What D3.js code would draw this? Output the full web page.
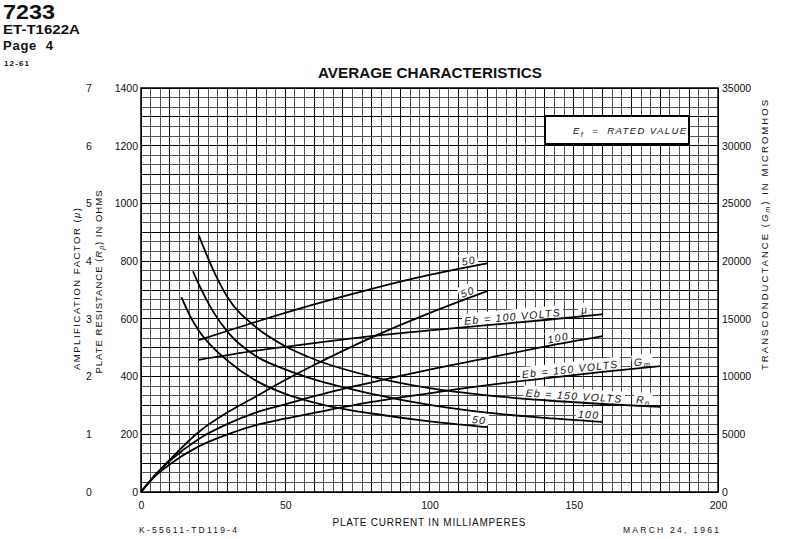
<!DOCTYPE html>
<html><head><meta charset="utf-8">
<script src="https://cdn.jsdelivr.net/npm/d3@7"></script>
<style>
body{margin:0;background:#fff;}
svg{display:block;}
text{font-family:"Liberation Sans",Arial,sans-serif;fill:#111;}
</style></head><body>
<svg id="c" width="787" height="539"></svg>
<script>
// ---------- data ----------
const xTicks = [0, 50, 100, 150, 200];
const ohmTicks = [0, 200, 400, 600, 800, 1000, 1200, 1400];
const muTicks = [0, 1, 2, 3, 4, 5, 6, 7];
const gmTicks = [0, 5000, 10000, 15000, 20000, 25000, 30000, 35000];

const muCurrent50 = [20, 40, 60, 80, 100, 120];
const mu50 = [2.63, 2.95, 3.25, 3.52, 3.76, 3.96];
const muCurrent100 = [20, 40, 60, 80, 100, 120, 140, 160];
const mu100 = [2.29, 2.45, 2.58, 2.70, 2.80, 2.89, 2.98, 3.08];

const gmCurrent = [0, 5, 10, 20, 30, 40, 50, 60, 80, 100, 120, 140, 160, 180];
const gm50 = [0, 1500, 2800, 5200, 6900, 8300, 9700, 11000, 13400, 15500, 17400];
const gm100 = [0, 1500, 2700, 4600, 5900, 6900, 7600, 8300, 9500, 10600, 11600, 12600, 13500];
const gm150 = [0, 1400, 2400, 3950, 5000, 5800, 6350, 6850, 7800, 8550, 9250, 9850, 10400, 10900];

const rpCurrent50 = [14, 17, 20, 25, 30, 40, 50, 60, 70, 80, 100, 120];
const rp50 = [675, 610, 560, 500, 455, 385, 340, 310, 288, 272, 245, 225];
const rpCurrent100 = [18, 20, 25, 30, 40, 50, 60, 80, 100, 120, 140, 160];
const rp100 = [765, 720, 625, 555, 470, 425, 390, 340, 302, 275, 257, 243];
const rpCurrent150 = [20, 25, 30, 40, 50, 60, 80, 100, 120, 140, 160, 180];
const rp150 = [890, 770, 675, 570, 505, 460, 400, 360, 335, 318, 305, 295];

// ---------- scales ----------
const svg = d3.select("#c");
const L = 141, R = 718, T = 88, B = 492;
const x = d3.scaleLinear().domain([0, 200]).range([L, R]);
const yOhm = d3.scaleLinear().domain([0, 1400]).range([B, T]);
const yMu = d3.scaleLinear().domain([0, 7]).range([B, T]);
const yGm = d3.scaleLinear().domain([0, 35000]).range([B, T]);

const series = {
  mu50:  {xs: muCurrent50, ys: mu50, y: yMu},
  mu100: {xs: muCurrent100, ys: mu100, y: yMu},
  gm50:  {xs: gmCurrent.slice(0, gm50.length), ys: gm50, y: yGm},
  gm100: {xs: gmCurrent.slice(0, gm100.length), ys: gm100, y: yGm},
  gm150: {xs: gmCurrent.slice(0, gm150.length), ys: gm150, y: yGm},
  rp50:  {xs: rpCurrent50, ys: rp50, y: yOhm},
  rp100: {xs: rpCurrent100, ys: rp100, y: yOhm},
  rp150: {xs: rpCurrent150, ys: rp150, y: yOhm}
};

const curveLabels = [
  {s: "mu50", at: 114, parts: [["50"]]},
  {s: "gm50", at: 114, parts: [["50"]]},
  {s: "mu100", at: 129, parts: [["Eb = 100 VOLTS"]]},
  {s: "mu100", at: 154, parts: [["\u03bc"]]},
  {s: "gm100", at: 145, parts: [["100"]]},
  {s: "gm150", at: 149, parts: [["Eb = 150 VOLTS"]]},
  {s: "gm150", at: 174, parts: [["G"], ["m", "sub"]]},
  {s: "rp150", at: 150, parts: [["Eb = 150 VOLTS"]]},
  {s: "rp150", at: 174, parts: [["R"], ["p", "sub"]]},
  {s: "rp100", at: 155, parts: [["100"]]},
  {s: "rp50", at: 117, parts: [["50"]]}
];

// ---------- header ----------
svg.append("text").attr("x", 3).attr("y", 19).attr("font-size", 20).attr("font-weight", "bold")
  .attr("textLength", 52).attr("lengthAdjust", "spacingAndGlyphs").text("7233");
svg.append("text").attr("x", 3).attr("y", 34).attr("font-size", 13).attr("font-weight", "bold")
  .attr("textLength", 77).attr("lengthAdjust", "spacingAndGlyphs").text("ET-T1622A");
svg.append("text").attr("x", 3).attr("y", 50).attr("font-size", 13).attr("font-weight", "bold")
  .attr("textLength", 50).attr("lengthAdjust", "spacing").attr("xml:space", "preserve").text("Page  4");
svg.append("text").attr("x", 4).attr("y", 66).attr("font-size", 8).attr("font-weight", "bold")
  .attr("textLength", 25).text("12-61");
svg.append("text").attr("x", 430).attr("y", 78).attr("font-size", 14.5).attr("font-weight", "bold")
  .attr("text-anchor", "middle").attr("textLength", 224).attr("lengthAdjust", "spacingAndGlyphs")
  .text("AVERAGE CHARACTERISTICS");

// ---------- grid ----------
const grid = svg.append("g").attr("shape-rendering", "crispEdges");
d3.range(0, 61).forEach(i => {
  const v = i * 200 / 60;
  grid.append("line").attr("x1", x(v)).attr("x2", x(v)).attr("y1", T).attr("y2", B)
    .attr("stroke", i % 3 === 0 ? "#000" : "#555")
    .attr("stroke-width", 1);
});
d3.range(0, 43).forEach(j => {
  const v = j * 1400 / 42;
  grid.append("line").attr("x1", L).attr("x2", R).attr("y1", yOhm(v)).attr("y2", yOhm(v))
    .attr("stroke", j % 3 === 0 ? "#000" : "#555")
    .attr("stroke-width", 1);
});
svg.append("rect").attr("x", L).attr("y", T).attr("width", R - L).attr("height", B - T)
  .attr("fill", "none").attr("stroke", "#000").attr("stroke-width", 1.5);

// ---------- legend box ----------
svg.append("rect").attr("x", 545).attr("y", 116).attr("width", 144).attr("height", 28)
  .attr("fill", "#fff").attr("stroke", "#000").attr("stroke-width", 2);
const lg = svg.append("text").attr("x", 573).attr("y", 134).attr("font-size", 9.5)
  .attr("font-style", "italic").attr("letter-spacing", 1.4);
lg.append("tspan").text("E");
lg.append("tspan").attr("font-size", 7).attr("dy", 3).text("f");
lg.append("tspan").attr("dy", -3).attr("xml:space", "preserve").text("  =  RATED VALUE");

// ---------- curve labels ----------
function interp(s, v) {
  const d = series[s];
  return d3.scaleLinear().domain(d.xs).range(d.ys)(v);
}
function px(s, v) {
  return [x(v), series[s].y(interp(s, v))];
}
const labelG = svg.append("g");
const lineG = svg.append("g");
const textG = svg.append("g");
curveLabels.forEach(lab => {
  const [cx, cy] = px(lab.s, lab.at);
  const p0 = px(lab.s, lab.at - 4), p1 = px(lab.s, lab.at + 4);
  const ang = Math.atan2(p1[1] - p0[1], p1[0] - p0[0]) * 180 / Math.PI;
  const g = textG.append("g").attr("transform", `translate(${cx},${cy}) rotate(${ang})`);
  const t = g.append("text").attr("text-anchor", "middle").attr("y", -2.5)
    .attr("font-size", 10.5).attr("font-style", "italic").attr("letter-spacing", 1.3)
    .attr("xml:space", "preserve");
  lab.parts.forEach(p => {
    const ts = t.append("tspan").text(p[0]);
    if (p[1] === "sub") ts.attr("font-size", 7.5).attr("dy", 2);
  });
  const bb = t.node().getBBox();
  labelG.append("g").attr("transform", `translate(${cx},${cy}) rotate(${ang})`)
    .append("rect").attr("x", bb.x - 2).attr("y", bb.y - 1).attr("width", bb.width + 4)
    .attr("height", (-1.5) - (bb.y - 1)).attr("fill", "#fff");
});

// ---------- curves ----------
Object.keys(series).forEach(k => {
  const d = series[k];
  const pts = d.xs.map((v, i) => [x(v), d.y(d.ys[i])]);
  lineG.append("path").attr("d", d3.line().curve(d3.curveMonotoneX)(pts))
    .attr("fill", "none").attr("stroke", "#000").attr("stroke-width", 1.8);
});

// ---------- axes ----------
function styleAxis(g) {
  g.select(".domain").remove();
  g.selectAll("text").attr("font-size", 10.5).attr("fill", "#222")
    .attr("font-family", "'Liberation Sans',Arial,sans-serif");
}
svg.append("g").attr("transform", `translate(${L},0)`)
  .call(d3.axisLeft(yOhm).tickValues(ohmTicks).tickSize(0).tickPadding(3).tickFormat(d3.format("d")))
  .call(styleAxis);
svg.append("g").attr("transform", `translate(89,0)`)
  .call(d3.axisLeft(yMu).tickValues(muTicks).tickSize(0).tickPadding(0).tickFormat(d3.format("d")))
  .call(styleAxis)
  .call(g => g.selectAll("text").attr("text-anchor", "middle"));
svg.append("g").attr("transform", `translate(${R},0)`)
  .call(d3.axisRight(yGm).tickValues(gmTicks).tickSize(0).tickPadding(4).tickFormat(d3.format("d")))
  .call(styleAxis);
svg.append("g").attr("transform", `translate(0,${B})`)
  .call(d3.axisBottom(x).tickValues(xTicks).tickSize(0).tickPadding(10).tickFormat(d3.format("d")))
  .call(styleAxis);

// ---------- axis titles ----------
function vtitle(tx, ty, len, parts) {
  const t = svg.append("text").attr("transform", `translate(${tx},${ty}) rotate(-90)`)
    .attr("text-anchor", "middle").attr("font-size", 9.5).attr("textLength", len)
    .attr("lengthAdjust", "spacing").attr("xml:space", "preserve");
  parts.forEach(p => {
    const ts = t.append("tspan").text(p[0]);
    if (p[1] === "sub") ts.attr("font-size", 7).attr("font-style", "italic").attr("dy", 2);
    if (p[1] === "it") ts.attr("font-style", "italic");
    if (p[1] === "up") ts.attr("dy", -2);
  });
}
vtitle(80, 289, 162, [["AMPLIFICATION FACTOR ("], ["\u03bc", "it"], [")"]]);
vtitle(102, 282, 183, [["PLATE RESISTANCE ("], ["R", "it"], ["p", "sub"], [")", "up"], [" IN OHMS"]]);
vtitle(768, 235, 270, [["TRANSCONDUCTANCE ("], ["G", "it"], ["m", "sub"], [")", "up"], [" IN MICROMHOS"]]);

svg.append("text").attr("x", 429).attr("y", 526).attr("text-anchor", "middle").attr("font-size", 10)
  .attr("textLength", 193).attr("lengthAdjust", "spacing").text("PLATE CURRENT IN MILLIAMPERES");
svg.append("text").attr("x", 139).attr("y", 533).attr("font-size", 8.5)
  .attr("textLength", 98).attr("lengthAdjust", "spacing").attr("fill", "#333").text("K-55611-TD119-4");
svg.append("text").attr("x", 623).attr("y", 533).attr("font-size", 8.5)
  .attr("textLength", 96).attr("lengthAdjust", "spacing").attr("fill", "#333").text("MARCH 24, 1961");
</script>
</body></html>
